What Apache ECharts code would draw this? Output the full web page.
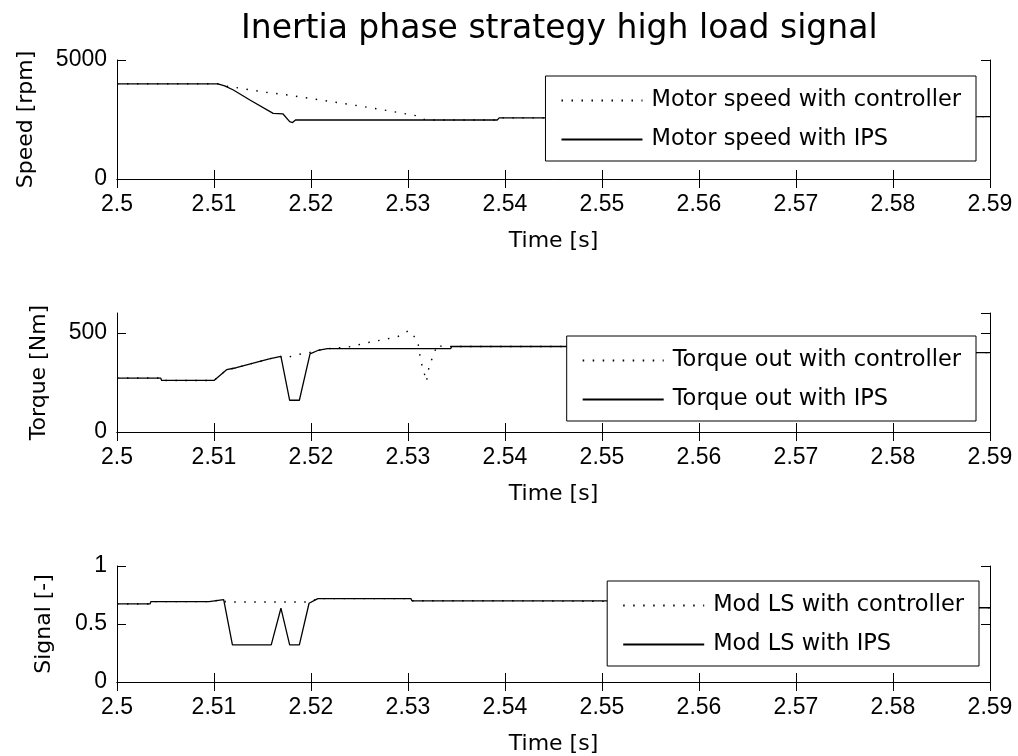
<!DOCTYPE html>
<html>
<head>
<meta charset="utf-8">
<script src="https://cdn.jsdelivr.net/npm/echarts@6/dist/echarts.min.js"></script>
<style>
  html, body { margin: 0; padding: 0; background: #fff; }
  #chart { width: 1018px; height: 756px; }
</style>
</head>
<body>
<div id="chart"></div>
<script>
// ---- data -------------------------------------------------------------
const chartTitle = 'Inertia phase strategy high load signal';
const timeMin = 2.5, timeMax = 2.59, timeStep = 0.01;
const timeName = 'Time [s]';

// Motor speed [rpm]
const speedName = 'Speed [rpm]';
const speedTicks = [0, 5000];
const speedCtrlName = 'Motor speed with controller';
const speedCtrlTime = [2.5, 2.5104, 2.5112, 2.5123, 2.5154, 2.5176, 2.5205, 2.5248, 2.5281, 2.531, 2.5318, 2.5392, 2.5394, 2.55, 2.5502, 2.59];
const speedCtrlVal  = [4000, 4000, 3900, 3840, 3640, 3530, 3350, 3080, 2860, 2650, 2480, 2480, 2570, 2570, 2620, 2620];
const speedIpsName = 'Motor speed with IPS';
const speedIpsTime = [2.5, 2.5104, 2.5111, 2.512, 2.5137, 2.5161, 2.5171, 2.5178, 2.5181, 2.5184, 2.5392, 2.5394, 2.55, 2.5502, 2.59];
const speedIpsVal  = [4000, 4000, 3910, 3740, 3320, 2760, 2740, 2410, 2370, 2480, 2480, 2570, 2570, 2620, 2620];

// Torque out [Nm]
const torqueName = 'Torque [Nm]';
const torqueTicks = [0, 500];
const torqueCtrlName = 'Torque out with controller';
const torqueCtrlTime = [2.5, 2.5045, 2.5046, 2.51, 2.5113, 2.5123, 2.5157, 2.5169, 2.5176, 2.5187, 2.5198, 2.5207, 2.5217, 2.5238, 2.5258, 2.5279, 2.529, 2.5301, 2.531, 2.5313, 2.5316, 2.5319, 2.5322, 2.5327, 2.533, 2.5335, 2.56, 2.5602, 2.59];
const torqueCtrlVal  = [272, 272, 260, 260, 314, 324, 369, 381, 377, 391, 400, 411, 420, 428, 450, 470, 482, 512, 461, 361, 310, 255, 336, 396, 441, 431, 431, 400, 400];
const torqueIpsName = 'Torque out with IPS';
const torqueIpsTime = [2.5, 2.5045, 2.5046, 2.51, 2.5113, 2.5123, 2.5157, 2.5169, 2.5178, 2.5188, 2.5199, 2.5207, 2.5217, 2.5344, 2.5345, 2.56, 2.5602, 2.59];
const torqueIpsVal  = [272, 272, 260, 260, 314, 324, 369, 381, 160, 160, 394, 411, 420, 420, 431, 431, 400, 400];

// Mod LS signal [-]
const signalName = 'Signal [-]';
const signalTicks = [0, 0.5, 1];
const signalCtrlName = 'Mod LS with controller';
const signalCtrlTime = [2.5, 2.5034, 2.5035, 2.5095, 2.5096, 2.511, 2.5112, 2.5198, 2.5207, 2.5303, 2.5304, 2.541, 2.5412, 2.56, 2.5602, 2.59];
const signalCtrlVal  = [0.673, 0.673, 0.693, 0.693, 0.71, 0.71, 0.69, 0.69, 0.719, 0.719, 0.70, 0.70, 0.69, 0.69, 0.64, 0.64];
const signalIpsName = 'Mod LS with IPS';
const signalIpsTime = [2.5, 2.5034, 2.5035, 2.5095, 2.5096, 2.511, 2.5119, 2.5159, 2.5169, 2.5178, 2.5188, 2.5198, 2.5207, 2.5303, 2.5304, 2.56, 2.5602, 2.59];
const signalIpsVal  = [0.673, 0.673, 0.693, 0.693, 0.71, 0.71, 0.32, 0.32, 0.636, 0.32, 0.32, 0.679, 0.719, 0.719, 0.70, 0.70, 0.64, 0.64];

// ---- helpers ----------------------------------------------------------
const zip = (t, v) => t.map((x, i) => [x, v[i]]);
const tickFont = 'Liberation Sans, Arial, sans-serif';
const textFont = 'DejaVu Sans, sans-serif';
const clear = 'rgba(0,0,0,0)';

const panels = [
  { top: 60,  height: 119, yName: speedName,  ticks: speedTicks,  nameGap: 80,
    ctrl: [speedCtrlName, speedCtrlTime, speedCtrlVal], ips: [speedIpsName, speedIpsTime, speedIpsVal],
    legend: { right: 42, top: 76 } },
  { top: 313, height: 119, yName: torqueName, ticks: torqueTicks, nameGap: 67, yMax: 600,
    ctrl: [torqueCtrlName, torqueCtrlTime, torqueCtrlVal], ips: [torqueIpsName, torqueIpsTime, torqueIpsVal],
    legend: { right: 42, top: 336 } },
  { top: 566, height: 116, yName: signalName, ticks: signalTicks, nameGap: 62,
    ctrl: [signalCtrlName, signalCtrlTime, signalCtrlVal], ips: [signalIpsName, signalIpsTime, signalIpsVal],
    legend: { right: 39, top: 581 } }
];

const black = '#000';
const grid = [], xAxis = [], yAxis = [], series = [], legend = [];

panels.forEach((p, gi) => {
  grid.push({ left: 117, right: 28, top: p.top, height: p.height, outerBoundsMode: 'none' });

  const xBase = {
    type: 'value', gridIndex: gi, min: timeMin, max: timeMax, interval: timeStep,
    axisLine: { lineStyle: { color: black, width: 1 } },
    axisTick: { inside: true, length: 9, lineStyle: { color: black, width: 1 } },
    splitLine: { show: false }
  };
  xAxis.push(Object.assign({}, xBase, {
    position: 'bottom',
    name: timeName, nameLocation: 'middle', nameGap: 51, nameMoveOverlap: false,
    nameTextStyle: { color: black, fontFamily: textFont, fontSize: 22 },
    axisLabel: {
      color: black, fontFamily: tickFont, fontSize: 23, margin: 14,
      showMinLabel: true, showMaxLabel: true,
      formatter: v => String(+v.toFixed(2))
    }
  }));
  xAxis.push(Object.assign({}, xBase, { position: 'top', axisLabel: { show: false } }));

  const yTop = p.ticks[p.ticks.length - 1];
  const yMax = p.yMax !== undefined ? p.yMax : yTop;
  const yBase = {
    type: 'value', gridIndex: gi, min: 0, max: yMax, interval: p.ticks[1] - p.ticks[0],
    axisLine: { show: true, lineStyle: { color: black, width: 1 } },
    axisTick: { show: true, inside: true, length: 9, lineStyle: { color: black, width: 1 } },
    splitLine: { show: false }
  };
  yAxis.push(Object.assign({}, yBase, {
    position: 'left',
    name: p.yName, nameLocation: 'middle', nameRotate: 90, nameGap: p.nameGap, nameMoveOverlap: false,
    nameTextStyle: { color: black, fontFamily: textFont, fontSize: 22 },
    axisLabel: {
      color: black, fontFamily: tickFont, fontSize: 23, margin: 10,
      showMinLabel: true, showMaxLabel: yMax === yTop,
      formatter: v => (p.ticks.indexOf(v) >= 0 ? String(v) : '')
    }
  }));
  yAxis.push(Object.assign({}, yBase, { position: 'right', axisLabel: { show: false } }));

  const xi = gi * 2, yi = gi * 2;
  series.push({
    type: 'line', name: p.ctrl[0], xAxisIndex: xi, yAxisIndex: yi,
    data: zip(p.ctrl[1], p.ctrl[2]), symbol: 'none', z: 2,
    lineStyle: { color: black, width: 1.4, type: [1.5, 8.5], cap: 'butt' },
    itemStyle: { color: clear, borderWidth: 0 }
  });
  series.push({
    type: 'line', name: p.ips[0], xAxisIndex: xi, yAxisIndex: yi,
    data: zip(p.ips[1], p.ips[2]), symbol: 'none', z: 3,
    lineStyle: { color: black, width: 1.3, type: 'solid' },
    itemStyle: { color: clear, borderWidth: 0 }
  });

  legend.push({
    data: [p.ctrl[0], p.ips[0]],
    orient: 'vertical', right: p.legend.right, top: p.legend.top,
    backgroundColor: '#fff', borderColor: black, borderWidth: 1, borderRadius: 0,
    padding: [13, 15, 10, 15], itemGap: 16, itemWidth: 81, itemHeight: 14,
    selectedMode: false,
    itemStyle: { color: clear, borderColor: clear, borderWidth: 0, opacity: 0 },
    textStyle: { color: black, fontFamily: textFont, fontSize: 22.5, padding: [0, 0, 0, 4] }
  });
});

const chart = echarts.init(document.getElementById('chart'), null, { renderer: 'canvas' });
chart.setOption({
  animation: false,
  backgroundColor: '#fff',
  title: {
    text: chartTitle, left: 236, top: 8,
    textStyle: { color: black, fontFamily: textFont, fontSize: 33, fontWeight: 'normal' }
  },
  grid, xAxis, yAxis, series, legend
});
</script>
</body>
</html>
